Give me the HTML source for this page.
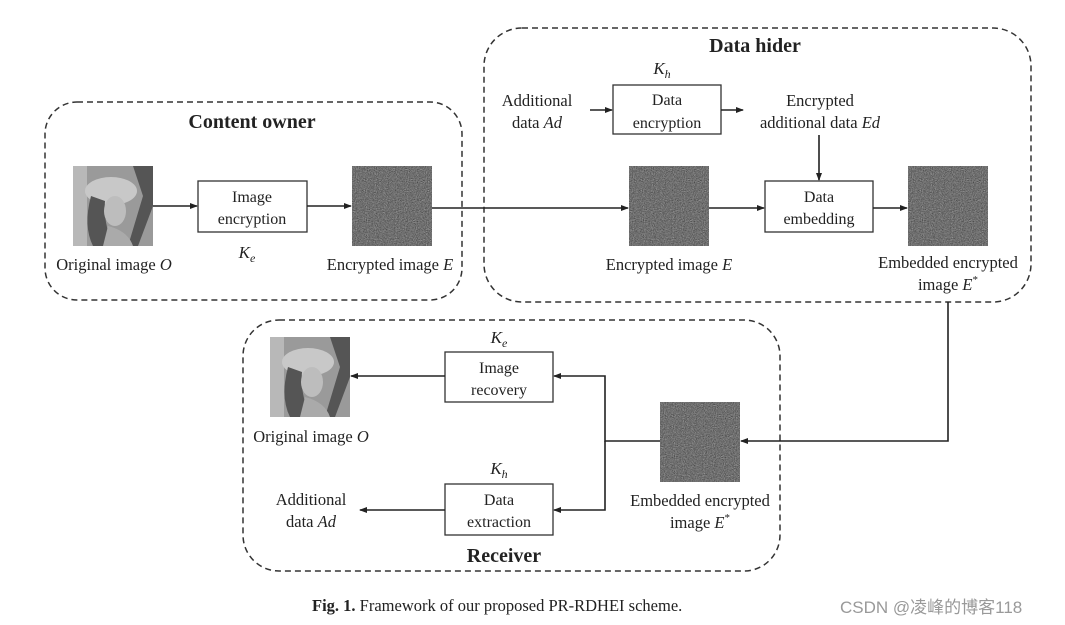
<!DOCTYPE html>
<html><head><meta charset="utf-8"><style>
html,body{margin:0;padding:0;background:#fff;}
svg{display:block;}
text{font-family:"Liberation Serif",serif;fill:#222;}
</style></head><body>
<svg width="1065" height="625" viewBox="0 0 1065 625" xmlns="http://www.w3.org/2000/svg">
<defs>
<filter id="nz" x="0" y="0" width="100%" height="100%" color-interpolation-filters="sRGB">
<feTurbulence type="fractalNoise" baseFrequency="0.9" numOctaves="2" seed="3"/>
<feColorMatrix type="matrix" values="0.33 0.33 0.33 0 0  0.33 0.33 0.33 0 0  0.33 0.33 0.33 0 0  0 0 0 0 1"/>
<feComponentTransfer><feFuncR type="linear" slope="0.8" intercept="0.04"/><feFuncG type="linear" slope="0.8" intercept="0.04"/><feFuncB type="linear" slope="0.8" intercept="0.04"/></feComponentTransfer>
</filter>
<symbol id="noise" viewBox="0 0 80 80"><rect width="80" height="80" fill="#666" filter="url(#nz)"/></symbol>
<symbol id="lena" viewBox="0 0 80 80">
<rect width="80" height="80" fill="#9a9a9a"/>
<rect x="0" y="0" width="14" height="80" fill="#b8b8b8"/>
<path d="M60 0 L80 0 L80 40 L65 80 L55 80 L70 30Z" fill="#555"/>
<ellipse cx="38" cy="25" rx="26" ry="14" fill="#c8c8c8"/>
<path d="M18 30 Q10 60 20 80 L40 80 Q30 55 32 35Z" fill="#555"/>
<ellipse cx="42" cy="45" rx="11" ry="15" fill="#bdbdbd"/>
<path d="M35 60 Q55 65 60 80 L30 80Z" fill="#aaa"/>
</symbol>
<marker id="ah" markerWidth="8" markerHeight="8" refX="7" refY="4" orient="auto" markerUnits="userSpaceOnUse"><path d="M0,1 L8,4 L0,7Z" fill="#222"/></marker>
</defs>
<g fill="none" stroke="#333" stroke-width="1.5" stroke-dasharray="6,4">
<rect x="45" y="102" width="417" height="198" rx="32"/>
<rect x="484" y="28" width="547" height="274" rx="38"/>
<rect x="243" y="320" width="537" height="251" rx="36"/>
</g>
<use href="#lena" x="73" y="166" width="80" height="80"/>
<use href="#noise" x="352" y="166" width="80" height="80"/>
<use href="#noise" x="629" y="166" width="80" height="80"/>
<use href="#noise" x="908" y="166" width="80" height="80"/>
<use href="#lena" x="270" y="337" width="80" height="80"/>
<use href="#noise" x="660" y="402" width="80" height="80"/>
<g fill="#fff" stroke="#333" stroke-width="1.3">
<rect x="198" y="181" width="109" height="51"/>
<rect x="613" y="85" width="108" height="49"/>
<rect x="765" y="181" width="108" height="51"/>
<rect x="445" y="352" width="108" height="50"/>
<rect x="445" y="484" width="108" height="51"/>
</g>
<g stroke="#222" stroke-width="1.6" fill="none" marker-end="url(#ah)">
<line x1="153" y1="206" x2="197" y2="206"/>
<line x1="307" y1="206" x2="351" y2="206"/>
<line x1="432" y1="208" x2="628" y2="208"/>
<line x1="590" y1="110" x2="612" y2="110"/>
<line x1="721" y1="110" x2="743" y2="110"/>
<line x1="819" y1="135" x2="819" y2="180"/>
<line x1="709" y1="208" x2="764" y2="208"/>
<line x1="873" y1="208" x2="907" y2="208"/>
<polyline points="948,302 948,441 741,441"/>
<polyline points="660,441 605,441 605,376 554,376"/>
<polyline points="605,441 605,510 554,510"/>
<line x1="445" y1="376" x2="351" y2="376"/>
<line x1="445" y1="510" x2="360" y2="510"/>
</g>
<g font-size="16" text-anchor="middle">
<text x="252" y="202">Image</text><text x="252" y="224">encryption</text>
<text x="667" y="105">Data</text><text x="667" y="128">encryption</text>
<text x="819" y="202">Data</text><text x="819" y="224">embedding</text>
<text x="499" y="373">Image</text><text x="499" y="395">recovery</text>
<text x="499" y="505">Data</text><text x="499" y="527">extraction</text>
</g>
<g font-size="16.5" text-anchor="middle">
<text x="114" y="270">Original image <tspan font-style="italic">O</tspan></text>
<text x="390" y="270">Encrypted image <tspan font-style="italic">E</tspan></text>
<text x="669" y="270">Encrypted image <tspan font-style="italic">E</tspan></text>
<text x="948" y="268">Embedded encrypted</text>
<text x="948" y="290">image <tspan font-style="italic">E</tspan><tspan font-size="11" dy="-7">*</tspan></text>
<text x="537" y="106">Additional</text><text x="537" y="128">data <tspan font-style="italic">Ad</tspan></text>
<text x="820" y="106">Encrypted</text><text x="820" y="128">additional data <tspan font-style="italic">Ed</tspan></text>
<text x="311" y="442">Original image <tspan font-style="italic">O</tspan></text>
<text x="311" y="505">Additional</text><text x="311" y="527">data <tspan font-style="italic">Ad</tspan></text>
<text x="700" y="506">Embedded encrypted</text>
<text x="700" y="528">image <tspan font-style="italic">E</tspan><tspan font-size="11" dy="-7">*</tspan></text>
</g>
<g font-size="17" font-style="italic" text-anchor="middle">
<text x="247" y="258">K<tspan font-size="12" dy="4">e</tspan></text>
<text x="662" y="74">K<tspan font-size="12" dy="4">h</tspan></text>
<text x="499" y="343">K<tspan font-size="12" dy="4">e</tspan></text>
<text x="499" y="474">K<tspan font-size="12" dy="4">h</tspan></text>
</g>
<g font-size="20" font-weight="bold" text-anchor="middle">
<text x="252" y="128">Content owner</text>
<text x="755" y="52">Data hider</text>
<text x="504" y="562">Receiver</text>
</g>
<text x="312" y="611" font-size="16.5"><tspan font-weight="bold">Fig. 1.</tspan> Framework of our proposed PR-RDHEI scheme.</text>
<text x="840" y="613" font-size="17" style="font-family:'Liberation Sans','Noto Sans CJK SC',sans-serif;fill:#999">CSDN @凌峰的博客118</text>
</svg>
</body></html>
